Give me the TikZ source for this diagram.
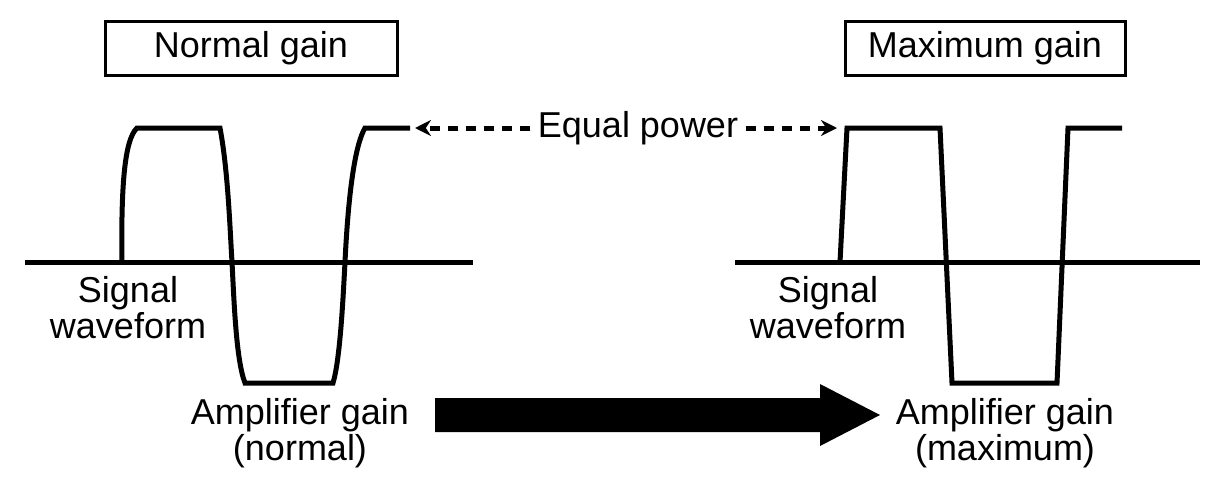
\documentclass[tikz,border=0pt]{standalone}
\usepackage{fontspec}
\setmainfont{Liberation Sans}
\usetikzlibrary{arrows.meta}
\begin{document}
\begin{tikzpicture}[x=1pt,y=-1pt,
  wave/.style={line width=5pt,line join=miter},
  lbl/.style={font=\fontsize{36}{36}\selectfont,align=center},
  box/.style={draw,line width=3pt,minimum width=292pt,minimum height=54pt,font=\fontsize{36}{36}\selectfont},
  dasharr/.style={line width=5pt,dash pattern=on 10pt off 8pt,-{Stealth[length=16pt,width=16pt]}}]
\useasboundingbox (0,0) rectangle (1209,477);
\node[box] (b1) at (251,48) {Normal gain};
\node[box,minimum width=280pt] (b2) at (985,48) {Maximum gain};
% left waveform
\draw[wave] (25,262) -- (473,262);
\draw[wave] (122,262) .. controls (121,190) and (124,140) .. (137,128) -- (220,128)
  .. controls (228,170) and (230,230) .. (232,262) .. controls (234,300) and (236,360) .. (245,383) -- (333,383)
  .. controls (340,360) and (343,300) .. (345,262) .. controls (347,220) and (352,150) .. (365,128) -- (410,128);
% right waveform
\draw[wave] (735,262) -- (1200,262);
\draw[wave] (840,262) -- (847,128) -- (940,128) -- (952,383) -- (1057,383) -- (1068,128) -- (1122,128);
\node[lbl] (eq) at (638,128) {Equal power};
\coordinate (la) at (415,128);
\coordinate (ra) at (837,128);
\draw[dasharr] (eq.west) ++(-4,0) -- (la);
\draw[dasharr] (eq.east) ++(4,0) -- (ra);
\node[lbl] (s1) at (128,308) {Signal\\waveform};
\node[lbl] (s2) at (828,308) {Signal\\waveform};
\node[lbl] (a1) at (300,433) {Amplifier gain\\(normal)};
\node[lbl] (a2) at (1005,433) {Amplifier gain\\(maximum)};
\fill (435,398) -- (820,398) -- (820,384) -- (880,415) -- (820,446) -- (820,432) -- (435,432) -- cycle;
\end{tikzpicture}
\end{document}
